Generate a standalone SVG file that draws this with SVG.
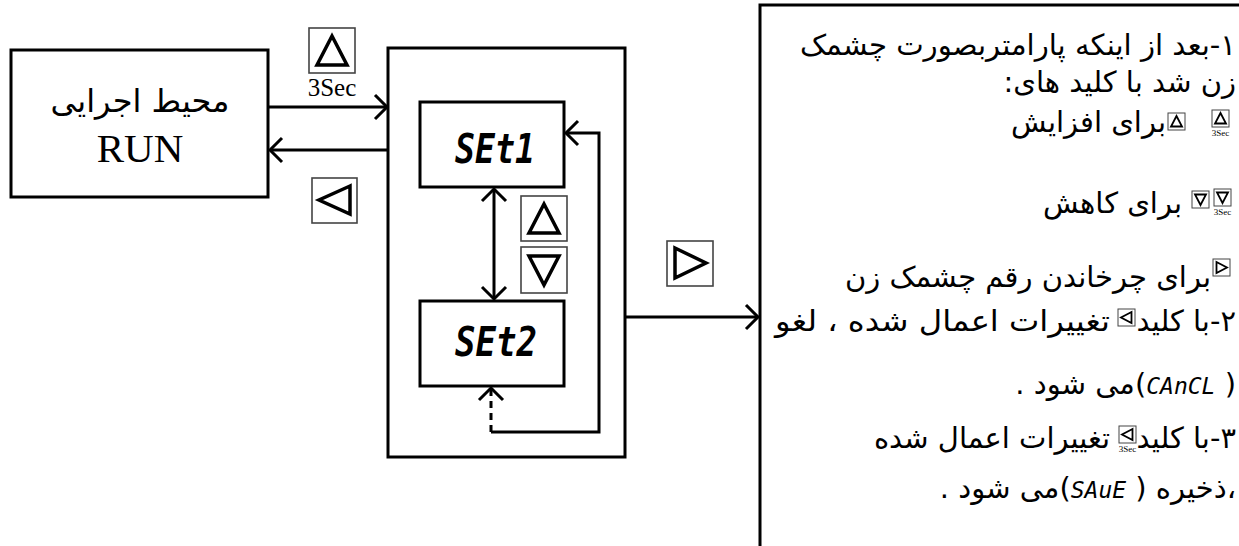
<svg xmlns="http://www.w3.org/2000/svg" width="1239" height="546" viewBox="0 0 1239 546">
<defs>
<style>
.box{fill:none;stroke:#000;stroke-width:3}
.ln{fill:none;stroke:#000;stroke-width:3}
.dash{fill:none;stroke:#000;stroke-width:3;stroke-dasharray:7 5}
.key{fill:#fff;stroke:#444;stroke-width:1.6}
.tri{fill:none;stroke:#000;stroke-width:3.5;stroke-linejoin:miter}
.kbox{fill:#fff;stroke:#444;stroke-width:1}
.ktri{fill:none;stroke:#000;stroke-width:1.8}
.fa{font-family:'DejaVu Sans',sans-serif;font-size:29px;fill:#000}
.seg{font-family:'DejaVu Sans Mono',monospace;font-style:oblique}
.tm{font-family:'Liberation Serif',serif;fill:#000}
</style>
<marker id="ah" markerUnits="userSpaceOnUse" markerWidth="30" markerHeight="30" viewBox="0 0 30 30" refX="14" refY="14" orient="auto-start-reverse">
<path d="M2,2 L14,14 L2,26" fill="none" stroke="#000" stroke-width="3"/>
</marker>
<g id="sUp"><rect class="kbox" x="0" y="0" width="17" height="17"/><path class="ktri" d="M8.5,3 L3,13.5 H14 Z"/></g>
<g id="sDn"><rect class="kbox" x="0" y="0" width="17" height="17"/><path class="ktri" d="M3,3.5 H14 L8.5,14 Z"/></g>
<g id="sRt"><rect class="kbox" x="0" y="0" width="17" height="17"/><path class="ktri" d="M3.5,3 L14,8.5 L3.5,14 Z"/></g>
<g id="sLt"><rect class="kbox" x="0" y="0" width="17" height="17"/><path class="ktri" d="M13.5,3 L3,8.5 L13.5,14 Z"/></g>
</defs>

<g id="node-run">
<rect class="box" x="11" y="50" width="257" height="147"/>
<text class="fa" x="140" y="112" text-anchor="middle" style="font-size:32px">محیط اجرایی</text>
<text class="tm" x="140" y="162" text-anchor="middle" style="font-size:41px">RUN</text>
</g>

<g id="key-up-3sec">
<rect class="key" x="309" y="28" width="46" height="45"/>
<path class="tri" d="M332,36 L317,65 H347 Z"/>
<text class="tm" x="332" y="96" text-anchor="middle" style="font-size:25px">3Sec</text>
</g>

<g id="key-left">
<rect class="key" x="312" y="178" width="45" height="45"/>
<path class="tri" d="M350,186 L319,200 L350,214 Z"/>
</g>

<g id="node-menu">
<rect class="box" x="388" y="48" width="237" height="409"/>
</g>

<g id="node-set1">
<rect class="box" x="420" y="102" width="144" height="85"/>
<text class="seg" x="495" y="163" text-anchor="middle" style="font-size:40px;font-weight:bold" textLength="80" lengthAdjust="spacingAndGlyphs">SEt1</text>
</g>

<g id="node-set2">
<rect class="box" x="420" y="301" width="144" height="85"/>
<text class="seg" x="496" y="356" text-anchor="middle" style="font-size:40px;font-weight:bold" textLength="82" lengthAdjust="spacingAndGlyphs">SEt2</text>
</g>

<g id="key-up">
<rect class="key" x="521" y="196" width="46" height="45"/>
<path class="tri" d="M544,204 L529,233 H559 Z"/>
</g>

<g id="key-down">
<rect class="key" x="521" y="247" width="46" height="46"/>
<path class="tri" d="M529,256 H559 L544,285 Z"/>
</g>

<g id="key-right">
<rect class="key" x="667" y="241" width="46" height="45"/>
<path class="tri" d="M675,248 L706,263 L675,278 Z"/>
</g>

<g id="connectors">
<path class="ln" d="M268,107 H387" marker-end="url(#ah)"/>
<path class="ln" d="M388,150 H270" marker-end="url(#ah)"/>
<path class="ln" d="M494,299 V189" marker-start="url(#ah)" marker-end="url(#ah)"/>
<path class="ln" d="M491,432 H599 V133 H566" marker-end="url(#ah)"/>
<path class="dash" d="M491,432 V388" marker-end="url(#ah)"/>
<path class="ln" d="M625,317 H758" marker-end="url(#ah)"/>
</g>

<g id="node-notes">
<rect class="box" x="760" y="5" width="600" height="600"/>
<text class="fa" direction="rtl" x="1236" y="55" textLength="436" lengthAdjust="spacingAndGlyphs">۱-بعد از اینکه پارامتربصورت چشمک</text>
<text class="fa" direction="rtl" x="1236" y="92">زن شد با کلید های:</text>

<use href="#sUp" x="1212" y="110"/>
<text class="tm" x="1220.5" y="136" text-anchor="middle" style="font-size:9px">3Sec</text>
<use href="#sUp" x="1168" y="113"/>
<text class="fa" direction="rtl" x="1166" y="132">برای افزایش</text>

<use href="#sDn" x="1214" y="189"/>
<text class="tm" x="1222.5" y="215" text-anchor="middle" style="font-size:9px">3Sec</text>
<use href="#sDn" x="1192" y="191"/>
<text class="fa" direction="rtl" x="1182" y="213">برای کاهش</text>

<use href="#sRt" x="1213" y="259"/>
<text class="fa" direction="rtl" x="1211" y="287">برای چرخاندن رقم چشمک زن</text>

<text class="fa" direction="rtl" x="1236" y="331">۲-با کلید</text>
<use href="#sLt" x="1118" y="309"/>
<text class="fa" direction="rtl" x="1110" y="331" textLength="335" lengthAdjust="spacingAndGlyphs">تغییرات اعمال شده ، لغو</text>

<text class="fa" direction="rtl" x="1236" y="394">(  <tspan class="seg" style="font-size:23px">CAnCL</tspan>)می شود .</text>

<text class="fa" direction="rtl" x="1236" y="448">۳-با کلید</text>
<use href="#sLt" x="1119" y="426"/>
<text class="tm" x="1127.5" y="452" text-anchor="middle" style="font-size:9px">3Sec</text>
<text class="fa" direction="rtl" x="1110" y="448">تغییرات اعمال شده</text>

<text class="fa" direction="rtl" x="1236" y="498">،ذخیره ( <tspan class="seg" style="font-size:23px">SAuE</tspan>)می شود .</text>
</g>
</svg>
